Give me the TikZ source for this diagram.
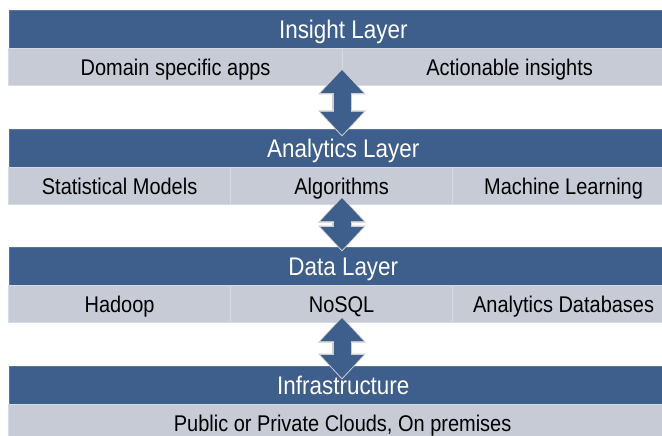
\documentclass[tikz,border=0pt]{standalone}
\usepackage{fontspec}
\setmainfont{Liberation Sans}[FakeStretch=0.88]
\usetikzlibrary{arrows.meta}

\definecolor{layerblue}{RGB}{62,94,140}
\definecolor{cellgrey}{RGB}{198,203,214}
\definecolor{celledge}{RGB}{214,218,226}
\definecolor{arrowedge}{RGB}{205,205,205}

\tikzset{
  header/.style={fill=layerblue, draw=layerblue!85!white, line width=.6pt,
    text=white, anchor=north west, minimum height=38pt, inner sep=0pt,
    text height=23pt, text depth=5pt,
    font=\fontsize{25.5}{29}\selectfont},
  cell/.style={fill=cellgrey, draw=celledge, line width=1.2pt,
    anchor=north west, minimum height=37pt, inner sep=0pt,
    text height=22pt, text depth=5pt,
    font=\fontsize{22.7}{26}\selectfont},
  updownedge/.style={draw=arrowedge, line width=20pt,
    shorten <=-1.5pt, shorten >=-1.5pt,
    {Triangle[width=48pt,length=26pt,line width=0pt]}-{Triangle[width=48pt,length=26pt,line width=0pt]}},
  updown/.style={draw=layerblue, line width=17pt,
    {Triangle[width=43pt,length=23pt,line width=0pt]}-{Triangle[width=43pt,length=23pt,line width=0pt]}}
}

\begin{document}
\begin{tikzpicture}[x=1pt, y=-1pt]
  \useasboundingbox (0,0) rectangle (662,436);
  \clip (0,0) rectangle (662,436);
  \fill[white] (0,0) rectangle (662,436);

  % insight layer
  \node[header, minimum width=668pt] (insight) at (9,10) {Insight Layer};
  \node[cell, minimum width=334pt] (apps) at (8,48) {Domain specific apps};
  \node[cell, minimum width=334pt] (actions) at (342,48) {Actionable insights};

  % analytics layer
  \node[header, minimum width=668pt] (analytics) at (9,129) {Analytics Layer};
  \node[cell, minimum width=222pt] (stats) at (8,167) {Statistical Models};
  \node[cell, minimum width=222pt] (algos) at (230,167) {Algorithms};
  \node[cell, minimum width=222pt] (learning) at (452,167) {Machine Learning};

  % data layer
  \node[header, minimum width=668pt] (data) at (9,247) {Data Layer};
  \node[cell, minimum width=222pt] (hadoop) at (8,285) {Hadoop};
  \node[cell, minimum width=222pt] (nosql) at (230,285) {NoSQL};
  \node[cell, minimum width=222pt] (adb) at (452,285) {Analytics Databases};

  % infrastructure
  \node[header, minimum width=668pt] (infra) at (9,366) {Infrastructure};
  \node[cell, minimum width=668pt] (clouds) at (8,404) {Public or Private Clouds, On premises};

  % arrow ends
  \coordinate (up1) at (342,70);
  \coordinate (down1) at (342,135);
  \coordinate (up2) at (342,198);
  \coordinate (down2) at (342,250);
  \coordinate (up3) at (342,318);
  \coordinate (down3) at (342,378);

  % arrows
  \draw[updownedge] (up1) -- (down1);
  \draw[updown] (up1) -- (down1);
  \draw[updownedge] (up2) -- (down2);
  \draw[updown] (up2) -- (down2);
  \draw[updownedge] (up3) -- (down3);
  \draw[updown] (up3) -- (down3);
\end{tikzpicture}
\end{document}
